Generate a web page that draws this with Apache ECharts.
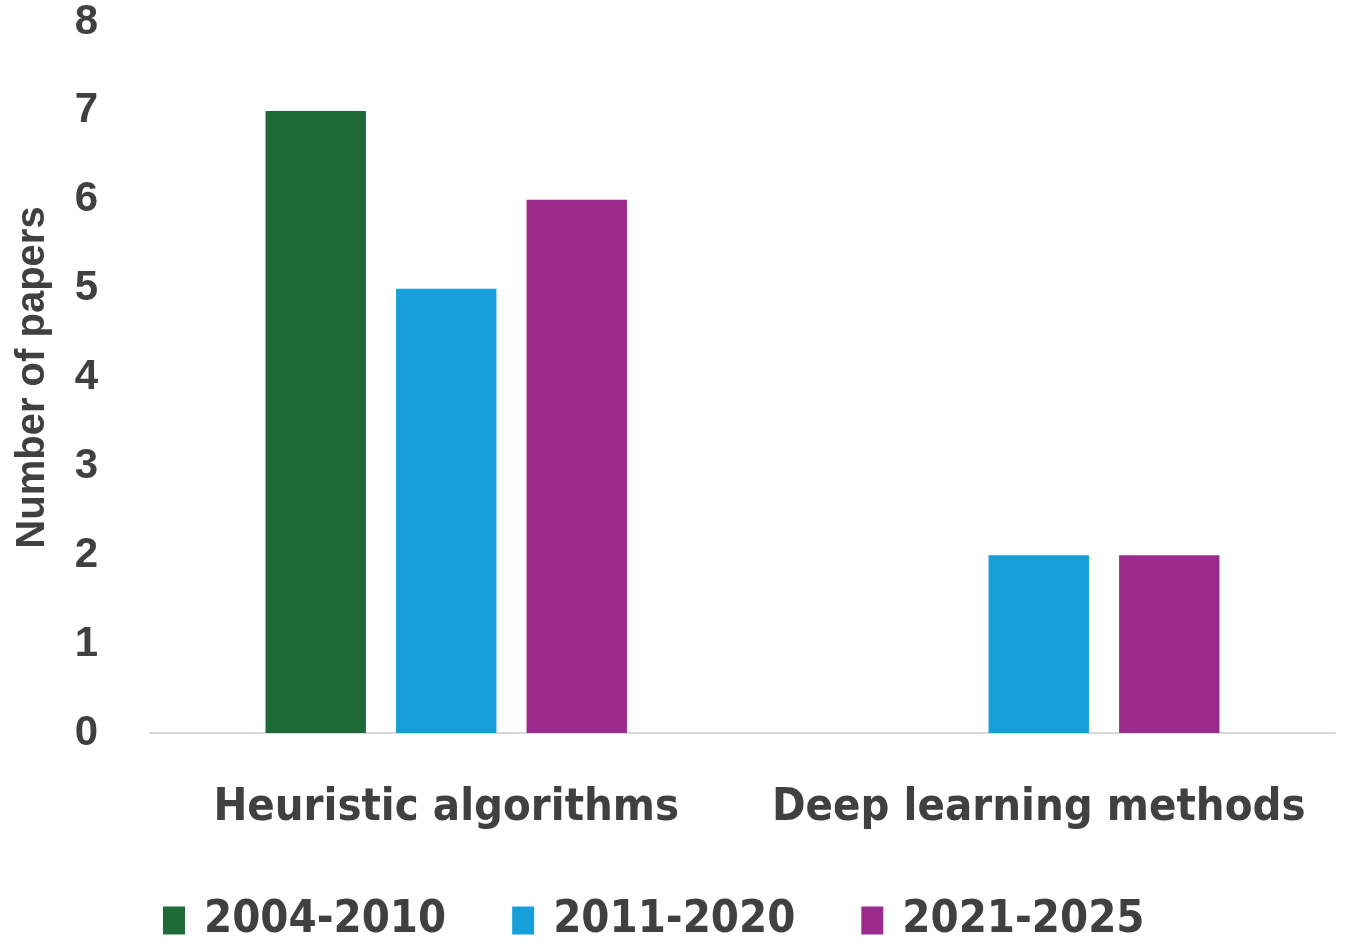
<!DOCTYPE html>
<html>
<head>
<meta charset="utf-8">
<script src="https://cdn.jsdelivr.net/npm/echarts@6/dist/echarts.min.js"></script>
<style>
html,body{margin:0;padding:0;background:#fff;}
#chart{width:1350px;height:944px;}
</style>
</head>
<body>
<div id="chart"></div>
<script>
const categories = ['Heuristic algorithms', 'Deep learning methods'];
const seriesNames = ['2004-2010', '2011-2020', '2021-2025'];
const values2004_2010 = [7, 0];
const values2011_2020 = [5, 2];
const values2021_2025 = [6, 2];
const yTicks = [0, 1, 2, 3, 4, 5, 6, 7, 8];
const colors = ['#1f6b37', '#179fd9', '#9b2b8d'];

const chart = echarts.init(document.getElementById('chart'));
const dataSets = [values2004_2010, values2011_2020, values2021_2025];
const condensed = '"Liberation Sans Narrow", "DejaVu Sans Condensed", "Liberation Sans", sans-serif';

chart.setOption({
  animation: false,
  backgroundColor: '#ffffff',
  grid: { left: 150, right: 15, top: 22, bottom: 211, containLabel: false, outerBoundsMode: 'none' },
  legend: {
    data: seriesNames,
    left: 158,
    top: 893,
    icon: 'rect',
    itemWidth: 22,
    itemHeight: 28,
    itemGap: 66,
    textStyle: {
      fontFamily: condensed,
      fontWeight: 'bold',
      fontSize: 45,
      color: '#404040',
      padding: [0, 0, 0, 14]
    }
  },
  xAxis: {
    type: 'category',
    data: categories,
    axisLine: { show: true, lineStyle: { color: '#d9d9d9', width: 2 } },
    axisTick: { show: false },
    axisLabel: {
      interval: 0,
      hideOverlap: false,
      margin: 53,
      fontFamily: condensed,
      fontWeight: 'bold',
      fontSize: 45,
      color: '#404040'
    }
  },
  yAxis: {
    type: 'value',
    min: yTicks[0],
    max: yTicks[yTicks.length - 1],
    interval: 1,
    name: 'Number of papers',
    nameLocation: 'middle',
    nameGap: 97,
    nameRotate: 90,
    nameTextStyle: {
      fontFamily: '"Liberation Sans", Arial, sans-serif',
      fontWeight: 'bold',
      fontSize: 40,
      color: '#404040'
    },
    axisLine: { show: false },
    axisTick: { show: false },
    splitLine: { show: false },
    axisLabel: {
      margin: 52,
      fontFamily: '"Liberation Sans", Arial, sans-serif',
      fontWeight: 'bold',
      fontSize: 42,
      color: '#404040'
    }
  },
  series: seriesNames.map((name, i) => ({
    name: name,
    type: 'bar',
    data: dataSets[i],
    barGap: '30%',
    barCategoryGap: '39%',
    itemStyle: { color: colors[i] }
  }))
});
</script>
</body>
</html>
